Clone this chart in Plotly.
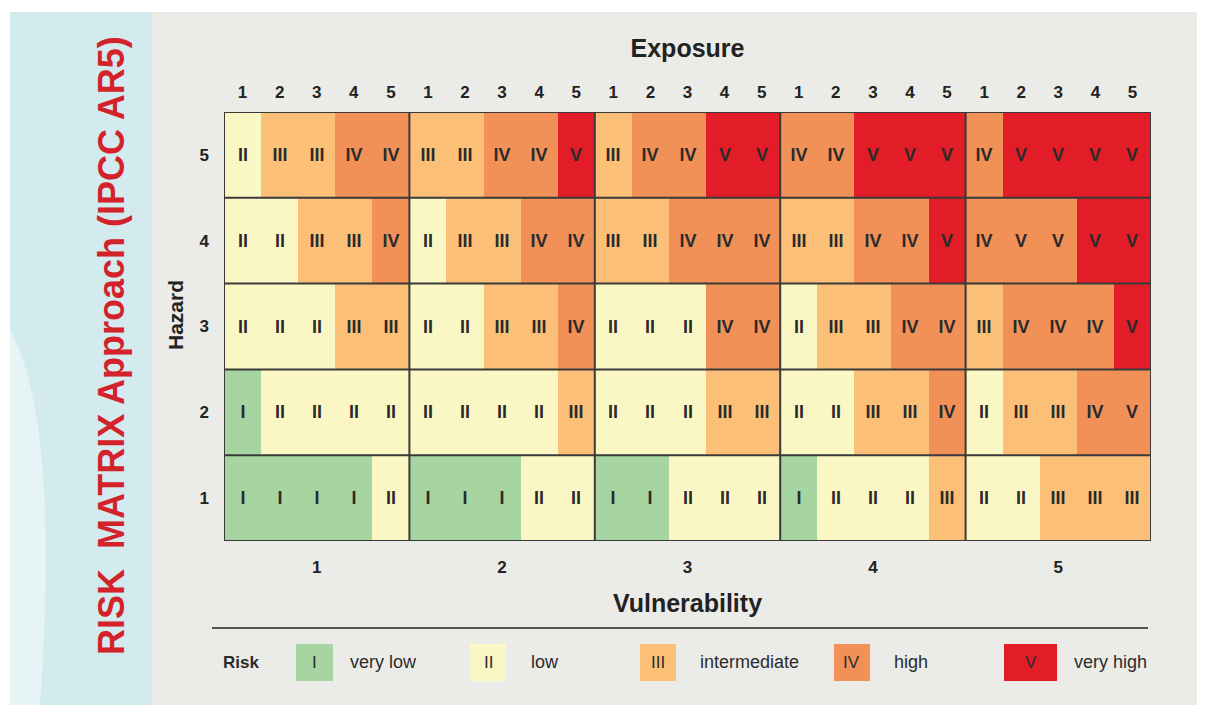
import plotly.graph_objects as go

# Risk classes and the legend wording
risk_classes = ["I", "II", "III", "IV", "V"]
risk_names = ["very low", "low", "intermediate", "high", "very high"]
risk_colors = ["#a6d5a2", "#fbf7c5", "#fcbf78", "#f19157", "#e31d27"]

exposure_labels = ["1", "2", "3", "4", "5"]
vulnerability_labels = ["1", "2", "3", "4", "5"]
hazard_labels = ["1", "2", "3", "4", "5"]

# Printed risk class per cell, hazard 5 (top) down to hazard 1,
# vulnerability blocks 1..5, exposure 1..5 inside each block
risk_text = {
    5: "II III III IV IV  III III IV IV V  III IV IV V V  IV IV V V V  IV V V V V",
    4: "II II III III IV  II III III IV IV  III III IV IV IV  III III IV IV V  IV V V V V",
    3: "II II II III III  II II III III IV  II II II IV IV  II III III IV IV  III IV IV IV V",
    2: "I II II II II  II II II II III  II II II III III  II II III III IV  II III III IV V",
    1: "I I I I II  I I I II II  I I II II II  I II II II III  II II III III III",
}
# Colour class of each cell (differs from the printed class in a few cells)
risk_shade = {
    5: "II III III IV IV  III III IV IV V  III IV IV V V  IV IV V V V  IV V V V V",
    4: "II II III III IV  II III III IV IV  III III IV IV IV  III III IV IV V  IV IV IV V V",
    3: "II II II III III  II II III III IV  II II II IV IV  II III III IV IV  III IV IV IV V",
    2: "I II II II II  II II II II III  II II II III III  II II III III IV  II III III IV IV",
    1: "I I I I II  I I I II II  I I II II II  I II II II III  II II III III III",
}

# page body has an 8px margin, so the figure is drawn 8px in from the corner
OFF = 8
W, H = 1207 - OFF, 717 - OFF
FONT = "Liberation Sans, Arial, sans-serif"

n_exp = len(exposure_labels)
n_vul = len(vulnerability_labels)
n_cols = n_exp * n_vul
hz = [int(h) for h in hazard_labels]

z = [[risk_classes.index(c) + 1 for c in risk_shade[h].split()] for h in hz]
txt = [risk_text[h].split() for h in hz]

# discrete colourscale
cs = []
for i, c in enumerate(risk_colors):
    cs.append([i / 5, c])
    cs.append([(i + 1) / 5, c])


def px(x):
    return (x - OFF) / W


def py(y):
    return 1 - (y - OFF) / H


fig = go.Figure()

fig.add_trace(go.Heatmap(
    x=list(range(n_cols)),
    y=hz,
    z=z,
    zmin=0.5,
    zmax=5.5,
    colorscale=cs,
    showscale=False,
    text=txt,
    texttemplate="%{text}",
    textfont=dict(family=FONT, size=18, color="#2b2b2b", weight="bold"),
    hoverinfo="skip",
))

# invisible trace to carry the vulnerability axis
block_centers = [i * n_exp + (n_exp - 1) / 2 for i in range(n_vul)]
fig.add_trace(go.Scatter(
    x=block_centers, y=[hz[0]] * n_vul, xaxis="x2", yaxis="y",
    mode="markers", marker=dict(opacity=0), hoverinfo="skip", showlegend=False,
))

shapes = []
# page frame and left panel
shapes.append(dict(type="rect", xref="paper", yref="paper", x0=px(150), x1=px(1197),
                   y0=py(705), y1=py(12), fillcolor="#ebebe8", line=dict(width=0), layer="below"))
shapes.append(dict(type="rect", xref="paper", yref="paper", x0=px(10), x1=px(152),
                   y0=py(705), y1=py(12), fillcolor="#d3eaee", line=dict(width=0), layer="below"))
shapes.append(dict(type="path", xref="paper", yref="paper",
                   path=f"M {px(10)},{py(330)} Q {px(60)},{py(420)} {px(40)},{py(705)} L {px(10)},{py(705)} Z",
                   fillcolor="#e6f4f6", line=dict(width=0), layer="below"))

# block borders
grid = dict(color="#3a3a3a", width=2)
for i in range(1, n_vul):
    shapes.append(dict(type="line", xref="x", yref="y", x0=i * n_exp - 0.5, x1=i * n_exp - 0.5,
                       y0=0.5, y1=len(hz) + 0.5, line=grid))
for j in range(1, len(hz)):
    shapes.append(dict(type="line", xref="x", yref="y", x0=-0.5, x1=n_cols - 0.5,
                       y0=j + 0.5, y1=j + 0.5, line=grid))
shapes.append(dict(type="rect", xref="x", yref="y", x0=-0.5, x1=n_cols - 0.5,
                   y0=0.5, y1=len(hz) + 0.5, line=grid))

# rule above the legend
shapes.append(dict(type="line", xref="paper", yref="paper", x0=px(212), x1=px(1148),
                   y0=py(628), y1=py(628), line=dict(color="#555555", width=2)))

annotations = []
annotations.append(dict(text="RISK\u00a0 MATRIX Approach (IPCC AR5)", textangle=-90,
                        x=px(112), y=py(346), xref="paper", yref="paper",
                        xanchor="center", yanchor="middle", showarrow=False,
                        font=dict(family=FONT, size=36, color="#d3222a", weight="bold")))
annotations.append(dict(text="Hazard", textangle=-90,
                        x=px(175), y=py(315), xref="paper", yref="paper",
                        xanchor="center", yanchor="middle", showarrow=False,
                        font=dict(family=FONT, size=21, color="#222222", weight="bold")))

# legend
legend_box_x = [(296, 333), (470, 506), (640, 676), (834, 870), (1004, 1057)]
legend_text_x = [348, 529, 698, 892, 1072]
annotations.append(dict(text="<b>Risk</b>", x=px(221), y=py(662), xref="paper", yref="paper",
                        xanchor="left", yanchor="middle", showarrow=False,
                        font=dict(family=FONT, size=17, color="#2b2b2b")))
for k in range(len(risk_classes)):
    x0, x1 = legend_box_x[k]
    shapes.append(dict(type="rect", xref="paper", yref="paper", x0=px(x0), x1=px(x1),
                       y0=py(681), y1=py(644), fillcolor=risk_colors[k], line=dict(width=0)))
    annotations.append(dict(text=risk_classes[k], x=px((x0 + x1) / 2), y=py(662),
                            xref="paper", yref="paper", xanchor="center", yanchor="middle",
                            showarrow=False,
                            font=dict(family=FONT, size=17, color="#2b2b2b")))
    annotations.append(dict(text=risk_names[k], x=px(legend_text_x[k]), y=py(662),
                            xref="paper", yref="paper", xanchor="left", yanchor="middle",
                            showarrow=False,
                            font=dict(family=FONT, size=18, color="#2b2b2b")))

tick_font = dict(family=FONT, size=17, color="#222222", weight="bold")
title_font = dict(family=FONT, size=25, color="#222222", weight="bold")

fig.update_layout(
    width=W,
    height=H,
    margin=dict(l=0, r=0, t=0, b=0),
    paper_bgcolor="white",
    plot_bgcolor="white",
    font=dict(family=FONT),
    xaxis=dict(
        domain=[px(224), px(1151)],
        range=[-0.5, n_cols - 0.5],
        side="top",
        tickmode="array",
        tickvals=list(range(n_cols)),
        ticktext=exposure_labels * n_vul,
        tickfont=tick_font,
        ticks="",
        ticklabelstandoff=10,
        showgrid=False,
        zeroline=False,
        title=dict(text="Exposure", font=title_font, standoff=17),
    ),
    xaxis2=dict(
        overlaying="x",
        side="bottom",
        range=[-0.5, n_cols - 0.5],
        tickmode="array",
        tickvals=block_centers,
        ticktext=vulnerability_labels,
        tickfont=tick_font,
        ticks="",
        ticklabelstandoff=14,
        showgrid=False,
        zeroline=False,
        title=dict(text="Vulnerability", font=title_font, standoff=18),
    ),
    yaxis=dict(
        domain=[py(541), py(112)],
        range=[0.5, len(hz) + 0.5],
        tickmode="array",
        tickvals=hz,
        ticktext=hazard_labels,
        tickfont=tick_font,
        ticks="",
        ticklabelstandoff=14,
        showgrid=False,
        zeroline=False,
    ),
    shapes=shapes,
    annotations=annotations,
)

fig.write_html("out.html")
